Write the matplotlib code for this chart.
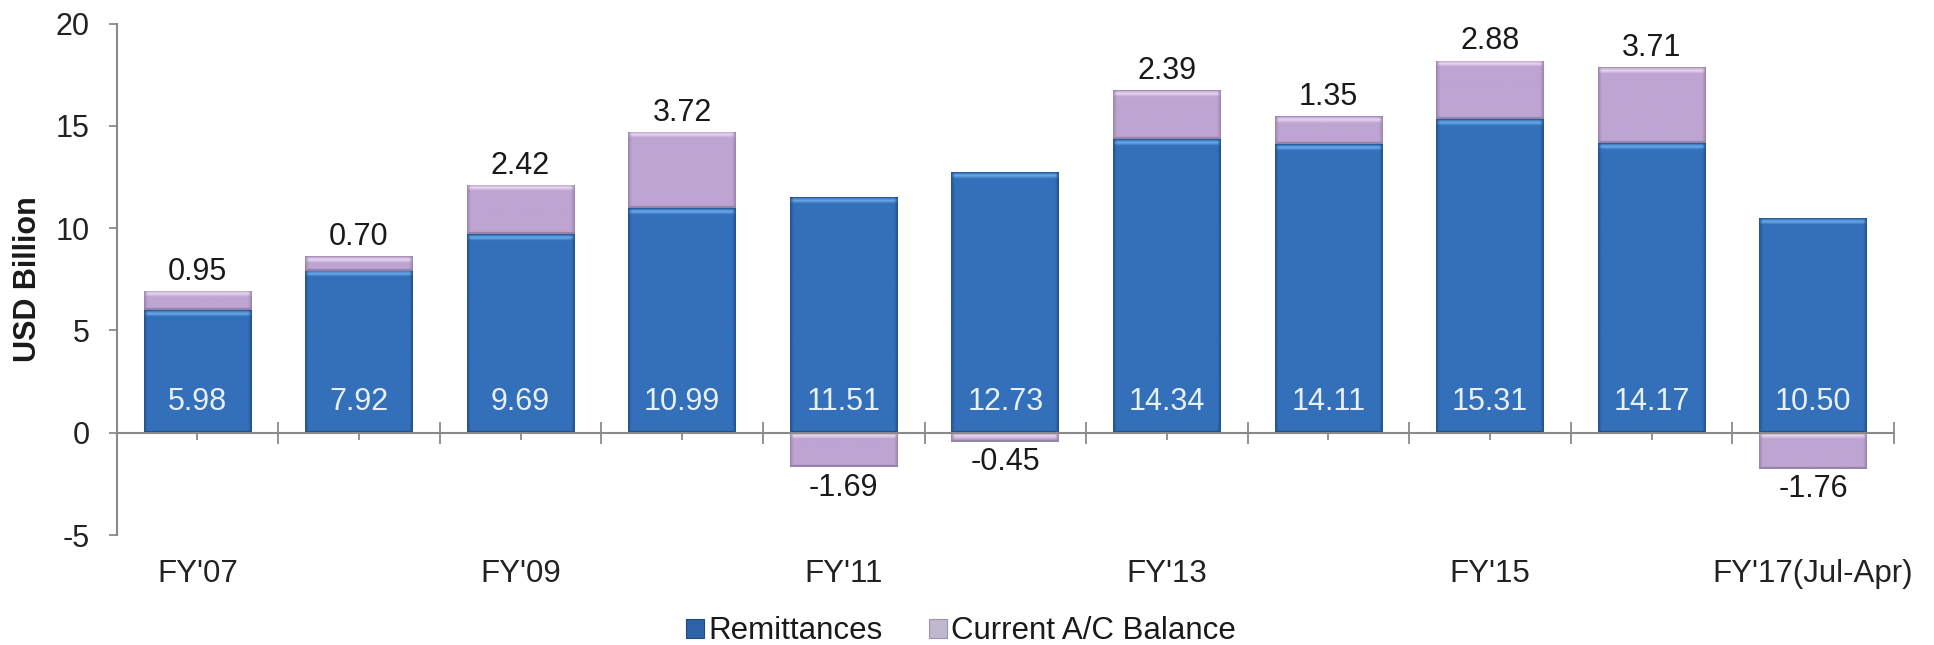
import numpy as np
import matplotlib.pyplot as plt
from matplotlib.colors import to_rgb
from matplotlib.patches import Patch
from matplotlib.ticker import FixedLocator, NullFormatter

plt.rcParams['font.family'] = ['Liberation Sans', 'DejaVu Sans']
plt.rcParams['axes.unicode_minus'] = False

years = ["FY'07", "FY'08", "FY'09", "FY'10", "FY'11", "FY'12",
         "FY'13", "FY'14", "FY'15", "FY'16", "FY'17(Jul-Apr)"]
remittances = [5.98, 7.92, 9.69, 10.99, 11.51, 12.73, 14.34, 14.11, 15.31, 14.17, 10.50]
current_ac = [0.95, 0.70, 2.42, 3.72, -1.69, -0.45, 2.39, 1.35, 2.88, 3.71, -1.76]

BLUE = ('#3470BA', '#6FB2EE', '#214F88')      # body, top highlight, edge
LAVENDER = ('#BEA4D2', '#EDDCF0', '#9683A8')


def shade_bar(ax, patch, colors):
    # paint a bevelled gradient inside one bar rectangle
    body, light, edge = [np.array(to_rgb(c)) for c in colors]
    x0, y0 = patch.get_xy()
    w, h = patch.get_width(), patch.get_height()
    ylo, yhi = min(y0, y0 + h), max(y0, y0 + h)
    nrows = max(int(abs(h) / 0.05), 4)
    ncols = 120
    t = (np.arange(ncols) + 0.5) / ncols
    d = np.clip(np.minimum(t, 1 - t) / 0.035, 0, 1)[None, :, None]
    img = np.ones((nrows, ncols, 3)) * body
    # top highlight band, about 5 px thick
    r = np.arange(nrows)[:, None, None]
    band = np.clip(1 - np.abs(r - 3.0) / 3.0, 0, 1) * (r >= 1)
    img = img * (1 - band * 0.85) + light * band * 0.85
    img[0] = edge * 0.6 + body * 0.4
    img[-2:] = edge
    img = img * d + edge * (1 - d)
    im = ax.imshow(img, extent=(x0, x0 + w, ylo, yhi), origin='upper',
                   aspect='auto', interpolation='bilinear', zorder=2)
    im.set_clip_path(patch)


fig = plt.figure(figsize=(19.34, 6.45), dpi=100)
ax = fig.add_axes([0.0603, 0.1705, 0.919, 0.793])

x = np.arange(len(years))
ca_bottom = [r if c > 0 else 0 for r, c in zip(remittances, current_ac)]

b1 = ax.bar(x, remittances, width=0.667, color=BLUE[0], linewidth=0, zorder=1)
b2 = ax.bar(x, current_ac, width=0.667, bottom=ca_bottom, color=LAVENDER[0],
            linewidth=0, zorder=1)

ax.set_xlim(-0.5, len(years) - 0.5)
ax.set_ylim(-5, 20)
ax.autoscale(False)

for p in b1.patches:
    shade_bar(ax, p, BLUE)
for p in b2.patches:
    shade_bar(ax, p, LAVENDER)

# value labels
for xi, r in zip(x, remittances):
    ax.text(xi, 1.5, f'{r:.2f}', ha='center', va='center', fontsize=22,
            color='#E8F0FA', zorder=4)
for xi, b, c in zip(x, ca_bottom, current_ac):
    if c > 0:
        ax.annotate(f'{c:.2f}', (xi, b + c), xytext=(0, 3), textcoords='offset points',
                    ha='center', va='bottom', fontsize=22, color='#1a1a1a', zorder=4)
    else:
        ax.annotate(f'{c:.2f}', (xi, c), xytext=(0, -4), textcoords='offset points',
                    ha='center', va='top', fontsize=22, color='#1a1a1a', zorder=4)

# axes styling
for s in ['top', 'right']:
    ax.spines[s].set_visible(False)
ax.spines['bottom'].set_position(('data', 0))
for s in ['bottom', 'left']:
    ax.spines[s].set_color('#8a8a8a')
    ax.spines[s].set_linewidth(1.5)
    ax.spines[s].set_zorder(3)

ax.set_yticks([-5, 0, 5, 10, 15, 20])
ax.tick_params(axis='y', direction='out', length=5.5, width=1.3, color='#8a8a8a',
               pad=14, labelsize=22, labelcolor='#222222')

ax.xaxis.set_major_locator(FixedLocator(np.arange(len(years) + 1) - 0.5))
ax.xaxis.set_major_formatter(NullFormatter())
ax.xaxis.set_minor_locator(FixedLocator(x))
ax.set_xticklabels([y if i % 2 == 0 else '' for i, y in enumerate(years)], minor=True)
ax.tick_params(axis='x', which='major', direction='inout', length=16, width=1.3,
               color='#8a8a8a')
ax.tick_params(axis='x', which='minor', direction='out', length=5, width=1.3,
               color='#8a8a8a', pad=86, labelsize=22.5, labelcolor='#222222')

ax.set_ylabel('USD Billion', fontsize=22, fontweight='bold', color='#1a1a1a', labelpad=9)

handles = [Patch(facecolor='#2F62A6', edgecolor='#1F4A80', linewidth=0.8),
           Patch(facecolor='#C0B8D0', edgecolor='#9C94AE', linewidth=0.8)]
fig.legend(handles, ['Remittances', 'Current A/C Balance'], loc='center',
           bbox_to_anchor=(0.497, 0.021), ncol=2, frameon=False, fontsize=22.5,
           handlelength=0.55, handleheight=0.55, handletextpad=0.15, columnspacing=1.5,
           labelcolor='#1a1a1a')

fig.savefig('out.png', dpi=100)
